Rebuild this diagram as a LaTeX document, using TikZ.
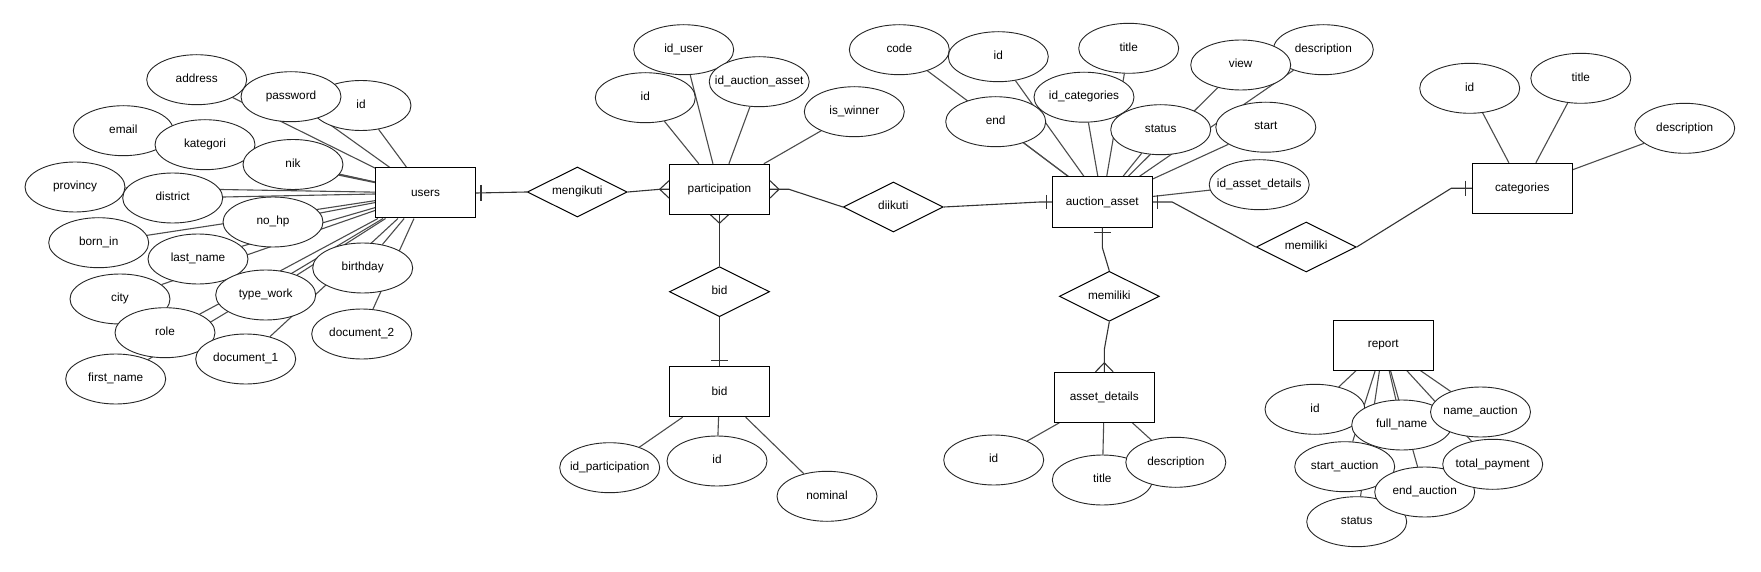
\documentclass[tikz,border=0pt]{standalone}
\usepackage{fontspec}
\setmainfont{Liberation Sans}
\usetikzlibrary{shapes.geometric,calc}
\pgfdeclarelayer{bg}
\pgfsetlayers{bg,main}
\newcommand\zw[1]{\makebox[0pt][c]{\strut #1}}
\begin{document}
\begin{tikzpicture}[x=1pt,y=-1pt,
  every node/.style={font=\fontsize{11.8}{14}\selectfont, text=black},
  ent/.style={rectangle, draw=black, fill=white, line width=1pt, minimum width=100pt, minimum height=50pt, inner sep=0pt},
  attr/.style={ellipse, draw=black!85, fill=white, line width=0.9pt, minimum width=100pt, minimum height=50pt, inner sep=0pt},
  rel/.style={diamond, draw=black, fill=white, line width=1pt, minimum width=100pt, minimum height=50pt, inner sep=0pt, aspect=2},
  conn/.style={draw=black!80, line width=1.1pt},
  aline/.style={draw=black!70, line width=1.1pt}]
\useasboundingbox (0,0) rectangle (1761,572);

% ---------- entities ----------
\node[ent] (users) at (425.5,193) {users};
\node[ent] (part) at (719.5,189.3) {participation};
\node[ent] (bid) at (719.5,391.7) {bid};
\node[ent] (aa) at (1102.3,202) {auction\_asset};
\node[ent] (ad) at (1104.3,397.3) {asset\_details};
\node[ent] (cat) at (1522.3,188.3) {categories};
\node[ent] (report) at (1383.3,345) {report};

% ---------- relationships ----------
\node[rel] (mengikuti) at (577.3,192) {\zw{mengikuti}};
\node[rel] (diikuti) at (893.3,207) {\zw{diikuti}};
\node[rel] (bidrel) at (719.5,291.7) {\zw{bid}};
\node[rel] (mem1) at (1306.2,247) {\zw{memiliki}};
\node[rel] (mem2) at (1109.3,296.3) {\zw{memiliki}};

% ---------- users attributes ----------
\node[attr] (u_address) at (196.7,79.7) {\zw{address}};
\node[attr] (u_id) at (361,105.5) {\zw{id}};
\node[attr] (u_password) at (291,96.7) {\zw{password}};
\node[attr] (u_email) at (123.3,130.7) {\zw{email}};
\node[attr] (u_kategori) at (205,144.7) {\zw{kategori}};
\node[attr] (u_nik) at (293,164.5) {\zw{nik}};
\node[attr] (u_provincy) at (75,187) {\zw{provincy}};
\node[attr] (u_district) at (172.7,198) {\zw{district}};
\node[attr] (u_bornin) at (98.7,242.7) {\zw{born\_in}};
\node[attr] (u_nohp) at (273,222) {\zw{no\_hp}};
\node[attr] (u_lastname) at (198,259) {\zw{last\_name}};
\node[attr] (u_city) at (120,299) {\zw{city}};
\node[attr] (u_firstname) at (115.7,379) {\zw{first\_name}};
\node[attr] (u_typework) at (265.7,295) {\zw{type\_work}};
\node[attr] (u_birthday) at (362.7,268) {\zw{birthday}};
\node[attr] (u_role) at (165,332.7) {\zw{role}};
\node[attr] (u_doc1) at (245.7,359) {\zw{document\_1}};
\node[attr] (u_doc2) at (361.7,334) {\zw{document\_2}};

% ---------- participation attributes ----------
\node[attr] (p_id) at (645.3,97.7) {\zw{id}};
\node[attr] (p_iduser) at (683.7,49.7) {\zw{id\_user}};
\node[attr] (p_idaa) at (759.2,81.7) {\zw{id\_auction\_asset}};
\node[attr] (p_winner) at (854.3,111.7) {\zw{is\_winner}};

% ---------- bid attributes ----------
\node[attr] (b_idp) at (609.7,467.7) {\zw{id\_participation}};
\node[attr] (b_id) at (717,461) {\zw{id}};
\node[attr] (b_nominal) at (827,496.3) {\zw{nominal}};

% ---------- auction_asset attributes ----------
\node[attr] (a_code) at (899.3,49.7) {\zw{code}};
\node[attr] (a_id) at (998.3,56.7) {\zw{id}};
\node[attr] (a_title) at (1128.7,48.3) {\zw{title}};
\node[attr] (a_desc) at (1323.3,49.7) {\zw{description}};
\node[attr] (a_view) at (1240.7,65) {\zw{view}};
\node[attr] (a_end) at (995.7,121.7) {\zw{end}};
\node[attr] (a_idcat) at (1084,97.2) {\zw{id\_categories}};
\node[attr] (a_status) at (1160.7,129.7) {\zw{status}};
\node[attr] (a_start) at (1265.8,127.2) {\zw{start}};
\node[attr] (a_idad) at (1259.2,184.7) {\zw{id\_asset\_details}};

% ---------- asset_details attributes ----------
\node[attr] (d_id) at (993.7,460) {\zw{id}};
\node[attr] (d_title) at (1102.3,480) {\zw{title}};
\node[attr] (d_desc) at (1175.8,462.3) {\zw{description}};

% ---------- categories attributes ----------
\node[attr] (c_id) at (1469.7,88.3) {\zw{id}};
\node[attr] (c_title) at (1580.8,78.3) {\zw{title}};
\node[attr] (c_desc) at (1684.7,128.3) {\zw{description}};

% ---------- report attributes ----------
\node[attr] (r_id) at (1315,409.3) {\zw{id}};
\node[attr] (r_full) at (1401.7,425) {\zw{full\_name}};
\node[attr] (r_name) at (1480.5,412) {\zw{name\_auction}};
\node[attr] (r_start) at (1344.7,466.7) {\zw{start\_auction}};
\node[attr] (r_status) at (1356.7,521.7) {\zw{status}};
\node[attr] (r_end) at (1424.7,492) {\zw{end\_auction}};
\node[attr] (r_total) at (1492.7,464.3) {\zw{total\_payment}};

% ---------- attribute lines (behind) ----------
\begin{pgfonlayer}{bg}
\fill[white] (0,0) rectangle (1761,572);
\foreach \a in {u_address,u_id,u_password,u_email,u_kategori,u_nik,u_provincy,u_district,u_bornin,u_nohp,u_lastname,u_city,u_firstname,u_typework,u_birthday,u_role,u_doc1,u_doc2}
  \draw[aline] (\a) -- (users);
\foreach \a in {p_id,p_iduser,p_idaa,p_winner}
  \draw[aline] (\a) -- (part);
\foreach \a in {b_idp,b_id,b_nominal}
  \draw[aline] (\a) -- (bid);
\foreach \a in {a_code,a_id,a_title,a_desc,a_view,a_end,a_idcat,a_status,a_start,a_idad}
  \draw[aline] (\a) -- (aa);
\foreach \a in {d_id,d_title,d_desc}
  \draw[aline] (\a) -- (ad);
\foreach \a in {c_id,c_title,c_desc}
  \draw[aline] (\a) -- (cat);
\foreach \a in {r_id,r_full,r_name,r_start,r_status,r_end,r_total}
  \draw[aline] (\a) -- (report);
\end{pgfonlayer}

% ---------- relationship connectors ----------
% users -- mengikuti (one)
\draw[conn] (users.east) -- (mengikuti.west);
\draw[conn] ($(users.east)+(5,-8)$) -- ($(users.east)+(5,8)$);
% mengikuti -- participation (many)
\coordinate (cfL) at ($(part.west)+(-9.3,0)$);
\draw[conn] (mengikuti.east) -- (cfL) -- (part.west);
\draw[conn] ($(part.west)+(0,-8.6)$) -- (cfL) -- ($(part.west)+(0,8.7)$);
% participation -- diikuti (many)
\coordinate (cfR) at ($(part.east)+(9,0)$);
\coordinate (kR) at ($(part.east)+(19,0)$);
\draw[conn] (part.east) -- (kR) -- (diikuti.west);
\draw[conn] ($(part.east)+(0,-8.6)$) -- (cfR) -- ($(part.east)+(0,8.7)$);
% diikuti -- auction_asset (one)
\coordinate (kA) at ($(aa.west)+(-12,0)$);
\draw[conn] (diikuti.east) -- (kA) -- (aa.west);
\draw[conn] ($(aa.west)+(-5,-7)$) -- ($(aa.west)+(-5,7.3)$);
% participation -- bid relationship (many)
\coordinate (cfB) at ($(part.south)+(0,8.4)$);
\draw[conn] (part.south) -- (bidrel.north);
\draw[conn] ($(part.south)+(-9,0)$) -- (cfB) -- ($(part.south)+(9,0)$);
% bid relationship -- bid (one)
\draw[conn] (bidrel.south) -- (bid.north);
\draw[conn] ($(bid.north)+(-8.3,-5.7)$) -- ($(bid.north)+(8.3,-5.7)$);
% auction_asset -- memiliki -- categories
\coordinate (kM) at ($(aa.east)+(19.4,0)$);
\draw[conn] (aa.east) -- (kM) -- (mem1.west);
\draw[conn] ($(aa.east)+(5,-7)$) -- ($(aa.east)+(5,7.3)$);
\coordinate (kC) at ($(cat.west)+(-20.6,0)$);
\draw[conn] (mem1.east) -- (kC) -- (cat.west);
\draw[conn] ($(cat.west)+(-6.3,-7.7)$) -- ($(cat.west)+(-6.3,7.7)$);
% auction_asset -- memiliki -- asset_details
\coordinate (kB) at ($(aa.south)+(0,20)$);
\draw[conn] (aa.south) -- (kB) -- (mem2.north);
\draw[conn] ($(aa.south)+(-8.3,5)$) -- ($(aa.south)+(8.3,5)$);
\coordinate (kD) at ($(ad.north)+(0,-22.3)$);
\coordinate (cfD) at ($(ad.north)+(0,-9)$);
\draw[conn] (mem2.south) -- (kD) -- (ad.north);
\draw[conn] ($(ad.north)+(-8.8,0)$) -- (cfD) -- ($(ad.north)+(8.8,0)$);
\end{tikzpicture}
\end{document}
